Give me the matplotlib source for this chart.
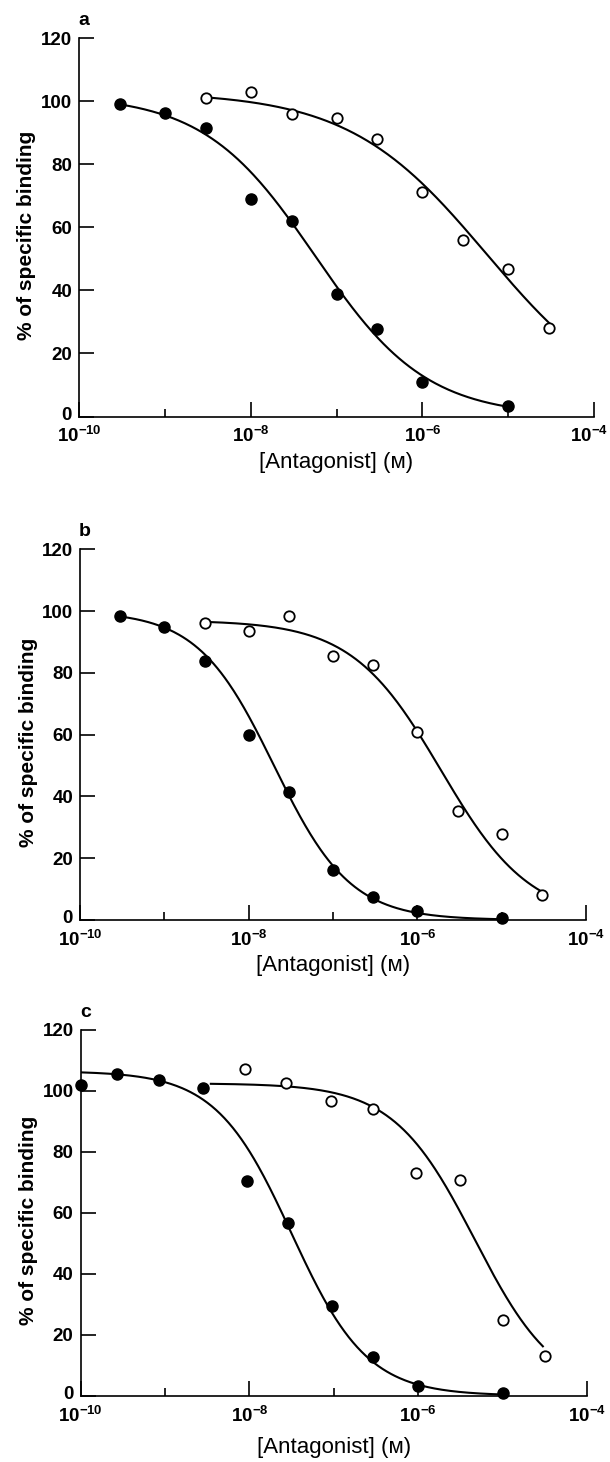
import numpy as np
import matplotlib
matplotlib.use('Agg')
import matplotlib.pyplot as plt
import matplotlib.transforms as mtransforms
from matplotlib.ticker import FixedLocator, NullFormatter

plt.rcParams['font.family'] = ['Liberation Sans', 'DejaVu Sans']
plt.rcParams['mathtext.fontset'] = 'custom'
plt.rcParams['mathtext.rm'] = 'Liberation Sans:bold'
plt.rcParams['mathtext.bf'] = 'Liberation Sans:bold'
plt.rcParams['mathtext.default'] = 'rm'

# panel a
conc_a_filled = [3e-10, 1e-9, 3e-9, 1e-8, 3e-8, 1e-7, 3e-7, 1e-6, 1e-5]
bind_a_filled = [99.2, 96.4, 91.6, 69.0, 62.1, 38.9, 27.9, 11.0, 3.4]
conc_a_open = [3e-9, 1e-8, 3e-8, 1e-7, 3e-7, 1e-6, 3e-6, 1e-5, 3e-5]
bind_a_open = [100.9, 103.1, 96.1, 94.8, 88.1, 71.2, 56.0, 46.7, 28.1]

# panel b
conc_b_filled = [3e-10, 1e-9, 3e-9, 1e-8, 3e-8, 1e-7, 3e-7, 1e-6, 1e-5]
bind_b_filled = [98.3, 94.7, 83.7, 59.9, 41.5, 16.3, 7.4, 3.0, 0.5]
conc_b_open = [3e-9, 1e-8, 3e-8, 1e-7, 3e-7, 1e-6, 3e-6, 1e-5, 3e-5]
bind_b_open = [96.3, 93.7, 98.4, 85.4, 82.6, 60.9, 35.4, 27.8, 8.0]

# panel c
conc_c_filled = [1e-10, 2.7e-10, 8.5e-10, 2.8e-9, 9.5e-9, 2.9e-8, 9.5e-8, 2.9e-7, 1e-6, 1e-5]
bind_c_filled = [101.9, 105.7, 103.5, 101.0, 70.5, 56.7, 29.3, 12.7, 3.3, 0.8]
conc_c_open = [8.9e-9, 2.75e-8, 9.3e-8, 2.9e-7, 9.5e-7, 3.1e-6, 1e-5, 3.2e-5]
bind_c_open = [107.1, 102.7, 96.8, 94.1, 73.1, 70.8, 24.7, 12.9]

# fitted curves: top, bottom, log IC50, slope, start conc, end conc
fit_a_filled = [102, 0, -7.25, 0.67, 3e-10, 1e-5]
fit_a_open = [103, 0, -5.25, 0.54, 3.5e-9, 3e-5]
fit_b_filled = [100, 0, -7.70, 0.96, 3e-10, 1e-5]
fit_b_open = [97, 0, -5.72, 0.82, 3.2e-9, 3e-5]
fit_c_filled = [106.5, 0, -7.50, 0.97, 1e-10, 1e-5]
fit_c_open = [102.5, 0, -5.33, 0.90, 3.5e-9, 3e-5]

panel_names = ['a', 'b', 'c']
x_ticks = [1e-10, 1e-8, 1e-6, 1e-4]
x_minor = [1e-9, 1e-7, 1e-5]
x_ticklabels = ['$10^{-10}$', '$10^{-8}$', '$10^{-6}$', '$10^{-4}$']
y_ticks = [0, 20, 40, 60, 80, 100, 120]


def hill(p):
    top, bottom, logic50, slope, x0, x1 = p
    x = np.logspace(np.log10(x0), np.log10(x1), 300)
    y = bottom + (top - bottom) / (1 + 10 ** ((np.log10(x) - logic50) * slope))
    return x, y


W, H = 610, 1462
fig = plt.figure(figsize=(W / 100, H / 100), dpi=100)

# axes boxes in pixels: left, right, top, bottom
boxes = [(79, 594, 38.3, 416.5), (80, 586, 549.3, 920), (80.5, 587, 1030, 1395.7)]
data = [
    (conc_a_filled, bind_a_filled, conc_a_open, bind_a_open, fit_a_filled, fit_a_open),
    (conc_b_filled, bind_b_filled, conc_b_open, bind_b_open, fit_b_filled, fit_b_open),
    (conc_c_filled, bind_c_filled, conc_c_open, bind_c_open, fit_c_filled, fit_c_open),
]
xlabel_y = [-0.094, -0.094, -0.113]

for i, (l, r, t, b) in enumerate(boxes):
    ax = fig.add_axes([l / W, (H - b) / H, (r - l) / W, (b - t) / H])
    cf, bf, co, bo, ff, fo = data[i]

    for p in (ff, fo):
        x, y = hill(p)
        ax.plot(x, y, color='black', lw=1.5, zorder=2)
    ax.plot(cf, bf, 'o', color='black', ms=8, zorder=3, clip_on=False)
    ax.plot(co, bo, 'o', mfc='white', mec='black', mew=1.3, ms=7.5, zorder=3,
            clip_on=False)

    ax.set_xscale('log')
    ax.set_xlim(1e-10, 1e-4)
    ax.set_ylim(0, 120)
    ax.xaxis.set_major_locator(FixedLocator(x_ticks))
    ax.xaxis.set_minor_locator(FixedLocator(x_minor))
    ax.xaxis.set_minor_formatter(NullFormatter())
    ax.set_xticklabels(x_ticklabels)
    ax.set_yticks(y_ticks)
    for s in ('top', 'right'):
        ax.spines[s].set_visible(False)
    for s in ('left', 'bottom'):
        ax.spines[s].set_linewidth(1.2)
    ax.tick_params(axis='x', which='major', direction='in', length=10.5,
                   width=1.2, labelsize=13.5, pad=7)
    ax.tick_params(axis='x', which='minor', direction='in', length=5.5, width=1.2)
    ax.tick_params(axis='y', direction='in', length=10.5, width=1.2,
                   labelsize=13.5, pad=5)
    for lab in ax.get_yticklabels():
        lab.set_fontweight('bold')

    # lift the "0" a little so it clears the 10^-10 label below it
    zero = ax.yaxis.get_major_ticks()[0].label1
    zero.set_transform(zero.get_transform() +
                       mtransforms.ScaledTranslation(0, 2.5 / 72, fig.dpi_scale_trans))

    # panel a runs almost to the edge: keep its 10^-4 label inside the figure
    if i == 0:
        last = ax.xaxis.get_major_ticks()[-1].label1
        last.set_horizontalalignment('right')
        last.set_transform(last.get_transform() +
                           mtransforms.ScaledTranslation(10 / 72, 0, fig.dpi_scale_trans))

    ax.set_ylabel('% of specific binding', fontsize=15, fontweight='bold')
    ax.yaxis.set_label_coords(-0.083, 0.48)
    ax.set_xlabel('[Antagonist] (\u1d0d)', fontsize=16)
    ax.xaxis.set_label_coords(0.5, xlabel_y[i])

    ax.text(0.01, 1.047, panel_names[i], transform=ax.transAxes, fontsize=14,
            fontweight='bold', ha='center', va='center')

fig.savefig('out.png', dpi=100)
